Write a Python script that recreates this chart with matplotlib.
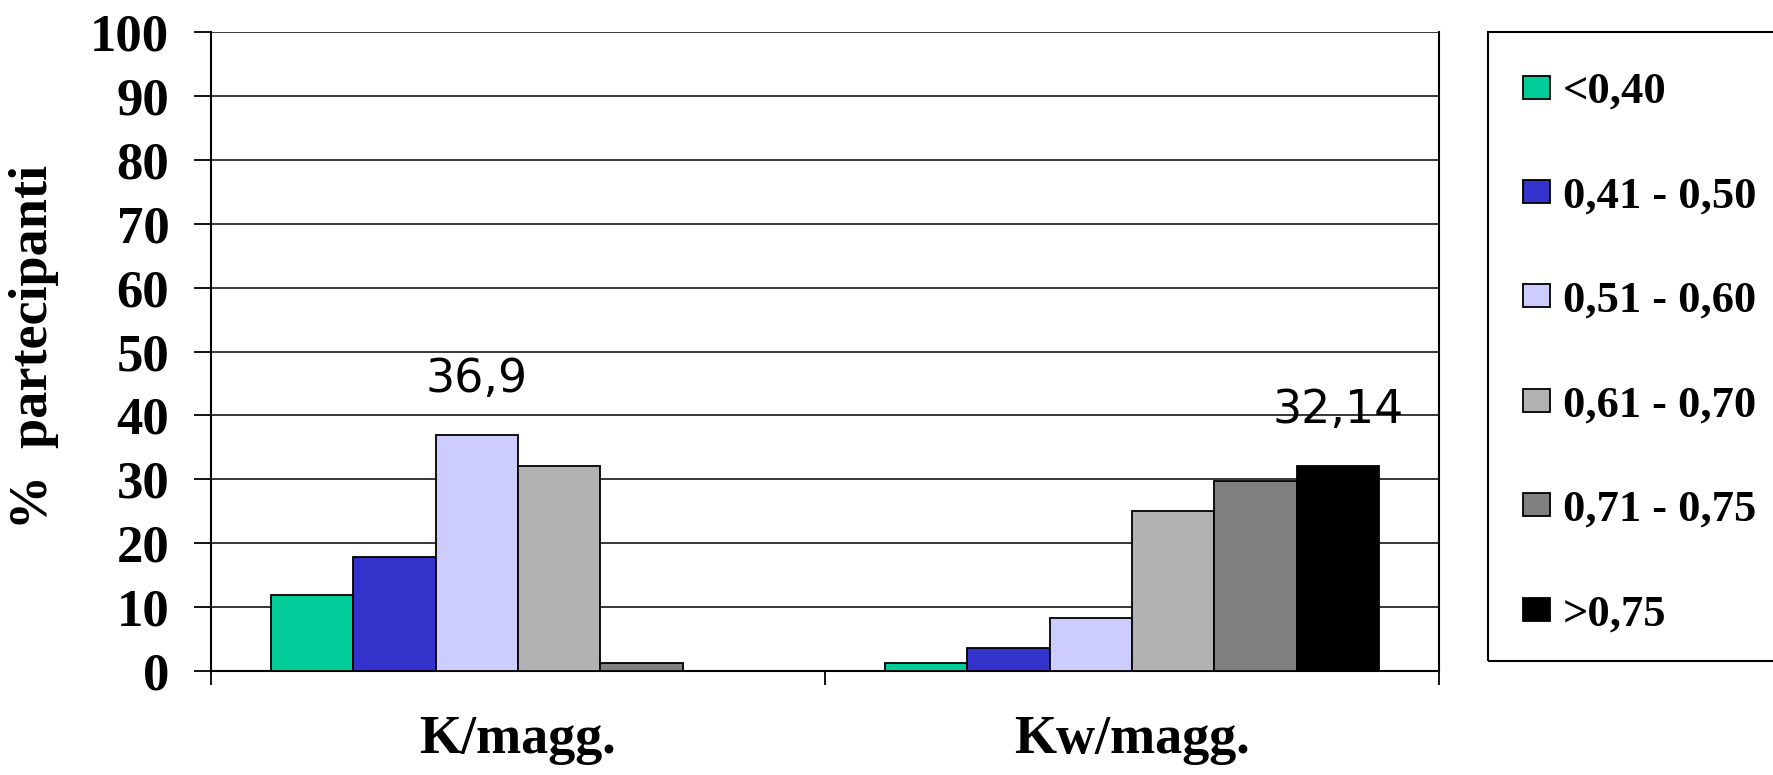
import matplotlib
matplotlib.use('Agg')
import matplotlib.pyplot as plt
from matplotlib.patches import Rectangle
import numpy as np

plt.rcParams['font.family'] = ['Liberation Serif', 'DejaVu Serif']
plt.rcParams['font.weight'] = 'bold'

categories = ['K/magg.', 'Kw/magg.']
classes = ['<0,40', '0,41 - 0,50', '0,51 - 0,60', '0,61 - 0,70', '0,71 - 0,75', '>0,75']
k_magg = [11.9, 17.86, 36.9, 32.14, 1.19, 0]
kw_magg = [1.19, 3.57, 8.33, 25.0, 29.76, 32.14]
colors = ['#00CC99', '#3333CC', '#CCCCFF', '#B2B2B2', '#808080', '#000000']
yticks = list(range(0, 101, 10))

W, H = 1773, 775
fig = plt.figure(figsize=(W / 100, H / 100), dpi=100)
ax = fig.add_axes([211 / W, 1 - 671 / H, (1439 - 211) / W, (671 - 32) / H])

series = np.array([k_magg, kw_magg])
centers = np.array([0.5, 1.5])
bw = 0.134
bars = []
for i, lab in enumerate(classes):
    b = ax.bar(centers + (i - 2.5) * bw, series[:, i], width=bw, color=colors[i],
               edgecolor='black', linewidth=1.3, label=lab, zorder=3)
    bars.append(b)

# value labels on the highest bar of each group
for g in range(len(categories)):
    i = int(np.argmax(series[g]))
    v = series[g, i]
    ax.annotate(f'{v:g}'.replace('.', ','), (centers[g] + (i - 2.5) * bw, v),
                xytext=(0, 31), textcoords='offset points', ha='center', va='baseline',
                fontsize=33, fontweight='normal', family='DejaVu Sans', zorder=4)

ax.set_xlim(0, 2)
ax.set_ylim(0, 100)
ax.set_yticks(yticks)
ax.yaxis.grid(True, color='black', linewidth=1.1)
ax.set_axisbelow(True)
ax.tick_params(axis='y', length=12, width=1.3, pad=18, labelsize=38)
ax.set_xticks([0, 1, 2])
ax.set_xticklabels([])
ax.set_xticks(centers, minor=True)
ax.set_xticklabels(categories, minor=True)
ax.tick_params(axis='x', which='major', length=10, width=1.3)
ax.tick_params(axis='x', which='minor', length=0, pad=32, labelsize=39)
ax.spines['top'].set_visible(False)
for s in ['left', 'right', 'bottom']:
    ax.spines[s].set_linewidth(1.5)

fig.text(34 / W, 1 - 347 / H, '%  partecipanti', rotation=90, ha='center', va='center',
         fontsize=39, fontweight='bold')

fig.patches.append(Rectangle((1488 / W, 1 - 661 / H), 0.2, (661 - 32) / H,
                             transform=fig.transFigure, fill=False, edgecolor='black',
                             linewidth=1.5, clip_on=False))
fig.legend(handles=bars, labels=classes, loc='center left',
           bbox_to_anchor=(1523 / W, 1 - 353 / H), frameon=False, fontsize=32,
           borderpad=0, borderaxespad=0, handlelength=0.6, handleheight=0.42,
           handletextpad=0.3, labelspacing=1.45)

fig.savefig('out.png', dpi=100)
